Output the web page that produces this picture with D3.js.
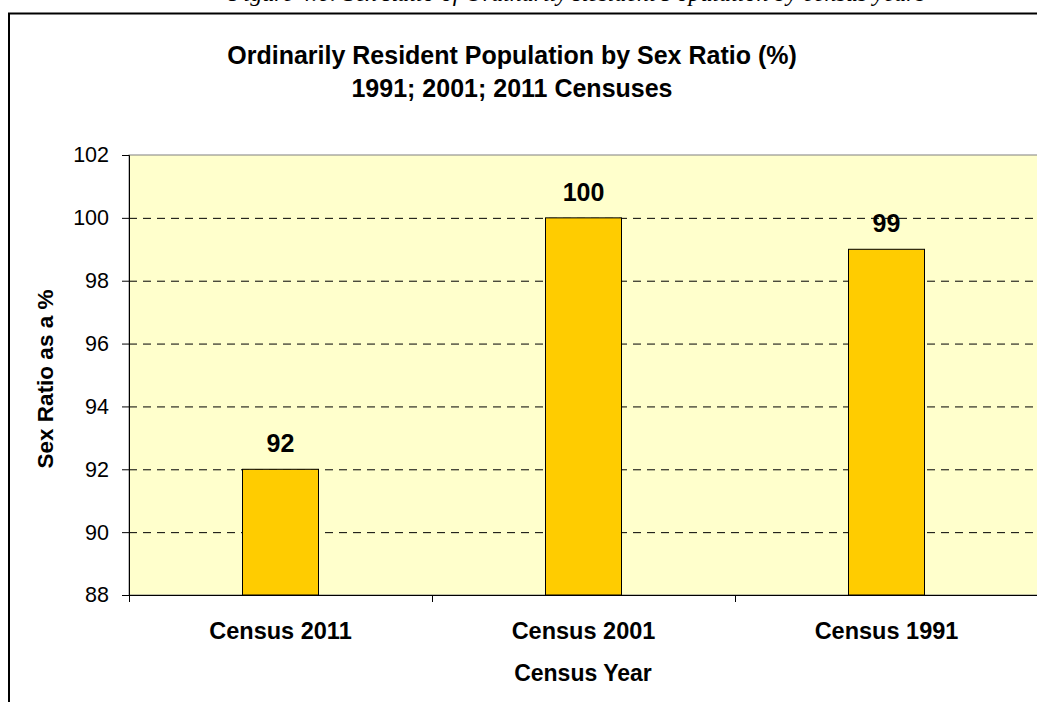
<!DOCTYPE html>
<html><head><meta charset="utf-8">
<script src="https://cdn.jsdelivr.net/npm/d3@7"></script>
<style>body{margin:0;background:#fff}svg{display:block}</style>
</head><body>
<script>
const categories = ["Census 2011", "Census 2001", "Census 1991"];
const values = [92, 100, 99];
const yTicks = [88, 90, 92, 94, 96, 98, 100, 102];
const captionText = "Figure 4.6: Sex Ratio of Ordinarily Resident Population by census years";
const titleLines = ["Ordinarily Resident Population by Sex Ratio (%)", "1991; 2001; 2011 Censuses"];
const xTitle = "Census Year";
const yTitle = "Sex Ratio as a %";

const W = 1037, H = 702;
const FONT = "Liberation Sans, Arial, sans-serif";
const svg = d3.select("body").append("svg").attr("width", W).attr("height", H);
const pl = 129, pr = 1038, pt = 155, pb = 595;

// caption (cut off at top, as in the source)
svg.append("text").attr("x", 577).attr("y", 1).attr("text-anchor", "middle")
  .attr("font-family", "Liberation Serif, Times New Roman, serif").attr("font-style", "italic")
  .attr("font-size", 24).text(captionText);

// chart frame
svg.append("rect").attr("x", 9).attr("y", 13.5).attr("width", W + 20).attr("height", H + 20)
  .attr("fill", "#fff").attr("stroke", "#000").attr("stroke-width", 2);

const x = d3.scaleBand().domain(categories).range([pl, pr]).paddingInner(0).paddingOuter(0);
const y = d3.scaleLinear().domain([88, 102]).range([pb, pt]);

// plot area
svg.append("rect").attr("x", pl).attr("y", pt).attr("width", pr - pl).attr("height", pb - pt)
  .attr("fill", "#FFFFCC").attr("stroke", "#808080").attr("stroke-width", 1);

// gridlines
svg.append("g").selectAll("line").data(yTicks.filter(d => d > 88 && d < 102)).join("line")
  .attr("x1", pl).attr("x2", pr).attr("y1", d => y(d) + 0.5).attr("y2", d => y(d) + 0.5)
  .attr("stroke", "#000").attr("stroke-dasharray", "8,6").attr("stroke-width", 1);

// bars
const bw = 76;
svg.append("g").selectAll("rect").data(values).join("rect")
  .attr("x", (d, i) => x(categories[i]) + x.bandwidth() / 2 - bw / 2)
  .attr("y", d => y(d))
  .attr("width", bw).attr("height", d => y(88) - y(d))
  .attr("fill", "#FFCC00").attr("stroke", "#000").attr("stroke-width", 1);

// value labels
svg.append("g").selectAll("text").data(values).join("text")
  .attr("x", (d, i) => x(categories[i]) + x.bandwidth() / 2)
  .attr("y", d => y(d) - 17)
  .attr("text-anchor", "middle").attr("font-family", FONT)
  .attr("font-weight", "bold").attr("font-size", 25).text(d => d);

// y axis
const yAxis = svg.append("g").attr("transform", `translate(${pl},0)`)
  .call(d3.axisLeft(y).tickValues(yTicks).tickSize(7).tickPadding(13));
yAxis.select(".domain").attr("stroke", "#000");
yAxis.selectAll(".tick line").attr("stroke", "#000");
yAxis.selectAll("text").attr("font-family", FONT).attr("font-size", 21.5).attr("fill", "#000");

// x axis
const xAxis = svg.append("g").attr("transform", `translate(0,${pb})`);
xAxis.append("line").attr("x1", pl).attr("x2", pr).attr("y1", 0.5).attr("y2", 0.5).attr("stroke", "#000");
const bounds = categories.map(c => x(c)).concat([pr]);
xAxis.selectAll("line.tk").data(bounds).join("line").attr("class", "tk")
  .attr("x1", d => d + 0.5).attr("x2", d => d + 0.5).attr("y1", 0).attr("y2", 7).attr("stroke", "#000");
xAxis.selectAll("text").data(categories).join("text")
  .attr("x", d => x(d) + x.bandwidth() / 2).attr("y", 44)
  .attr("text-anchor", "middle").attr("font-family", FONT)
  .attr("font-weight", "bold").attr("font-size", 23.5).text(d => d);

// axis titles
svg.append("text").attr("x", 583).attr("y", 681).attr("text-anchor", "middle")
  .attr("font-family", FONT).attr("font-weight", "bold").attr("font-size", 23).text(xTitle);
svg.append("text").attr("transform", "translate(53,379) rotate(-90)").attr("text-anchor", "middle")
  .attr("font-family", FONT).attr("font-weight", "bold").attr("font-size", 22.5).text(yTitle);

// title
svg.append("g").selectAll("text").data(titleLines).join("text")
  .attr("x", 512).attr("y", (d, i) => 64 + i * 33).attr("text-anchor", "middle")
  .attr("font-family", FONT).attr("font-weight", "bold").attr("font-size", 25).text(d => d);
</script>
</body></html>
